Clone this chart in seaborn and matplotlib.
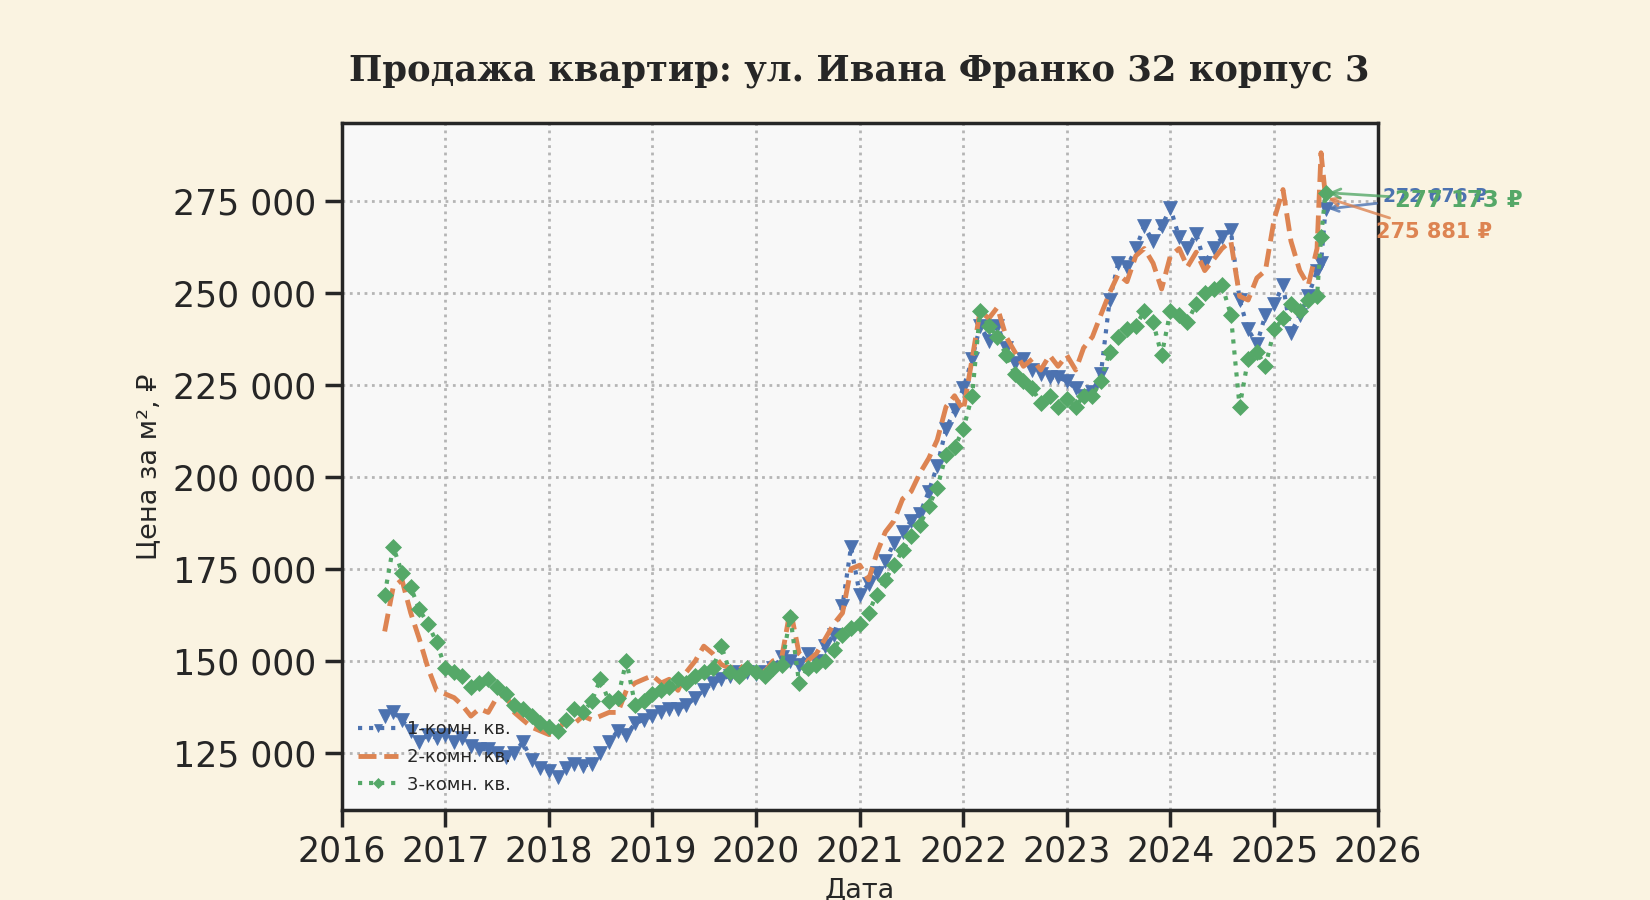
import pandas as pd
import matplotlib
matplotlib.use('Agg')
import matplotlib.pyplot as plt
import matplotlib.dates as mdates
from matplotlib.ticker import FuncFormatter, MultipleLocator
import seaborn as sns

# monthly points Jun 2016 .. Jun 2025, plus mid-June and July 2025
dates = list(pd.date_range('2016-06-01', '2025-06-01', freq='MS')) + \
    [pd.Timestamp('2025-06-15'), pd.Timestamp('2025-07-01')]

# price per m2, thousands of rubles
one_room = (
    [135, 136, 134, 131, 128, 130, 129]
    + [130, 128, 129, 127, 126, 126, 125, 124, 125, 128, 123, 121]
    + [120, 118.5, 121, 122, 121.5, 122, 125, 128, 131, 130, 133, 134]
    + [135, 136, 137, 137, 138, 140, 142, 144, 145, 146, 147, 147]
    + [146.5, 147, 148, 151, 150, 149, 152, 150, 154, 157, 165, 181]
    + [168, 171, 174, 177, 182, 185, 188, 190, 196, 203, 213, 218]
    + [224, 232, 241, 237, 241, 235, 231, 232, 229, 228, 227, 227]
    + [226, 224, 222, 223, 228, 248, 258, 257, 262, 268, 264, 268]
    + [273, 265, 262, 266, 258, 262, 265, 267, 248, 240, 236, 244]
    + [247, 252, 239, 244, 249, 256, 258, 272.676]
)
two_room = (
    [158, 170, 172, 163, 156, 148, 142]
    + [141, 140, 138, 135, 137, 136, 140, 141, 136, 134, 132, 131]
    + [130, 131, 134, 133, 135, 134, 135, 136, 136, 142, 144, 145]
    + [146, 144, 145, 142, 147, 150, 154, 152, 149, 148, 149, 147]
    + [148, 147, 150, 151, 164, 152, 150, 152, 156, 160, 163, 175]
    + [176, 172, 179, 185, 188, 194, 196, 201, 205, 210, 219, 222]
    + [218, 232, 245, 243, 246, 238, 234, 230, 232, 229, 233, 230]
    + [233, 229, 235, 238, 244, 250, 255, 253, 260, 262, 258, 251]
    + [260, 262, 257, 261, 256, 259, 262, 264, 249, 248, 254, 256]
    + [270, 278, 264, 256, 252, 262, 288, 275.881]
)
three_room = (
    [168, 181, 174, 170, 164, 160, 155]
    + [148, 147, 146, 143, 144, 145, 143, 141, 138, 137, 135, 133]
    + [132, 131, 134, 137, 136, 139, 145, 139, 140, 150, 138, 139]
    + [141, 142, 143, 145, 144, 146, 147, 148, 154, 147, 146, 148]
    + [147, 146, 148, 149, 162, 144, 148, 149, 150, 153, 157, 159]
    + [160, 163, 168, 172, 176, 180, 184, 187, 192, 197, 206, 208]
    + [213, 222, 245, 241, 238, 233, 228, 226, 224, 220, 222, 219]
    + [221, 219, 222, 222, 226, 234, 238, 240, 241, 245, 242, 233]
    + [245, 244, 242, 247, 250, 251, 252, 244, 219, 232, 234, 230]
    + [240, 243, 247, 245, 248, 249, 265, 277.173]
)

labels = ['1-комн. кв.', '2-комн. кв.', '3-комн. кв.']
series = [one_room, two_room, three_room]

df = pd.DataFrame({'Дата': dates})
for lab, vals in zip(labels, series):
    df[lab] = [v * 1000 for v in vals]

pal = sns.color_palette('deep')
styles = {
    labels[0]: dict(color=pal[0], linestyle=':', linewidth=3, marker='v', markersize=10.5),
    labels[1]: dict(color=pal[1], linestyle='--', linewidth=3.5),
    labels[2]: dict(color=pal[2], linestyle=':', linewidth=3, marker='D', markersize=8),
}

sns.set_theme(style='ticks')
plt.rcParams['font.family'] = ['DejaVu Sans']
text_color = '#262626'

fig, ax = plt.subplots(figsize=(16.5, 9), dpi=100)
fig.patch.set_facecolor('#faf3e1')
ax.set_facecolor('#f8f8f8')
fig.subplots_adjust(left=0.207, right=0.835, bottom=0.10, top=0.863)

for lab in labels:
    st = styles[lab]
    sns.lineplot(data=df, x='Дата', y=lab, ax=ax, label=lab,
                 markeredgecolor=st['color'], markeredgewidth=0.5, **st)

# last-value annotations
offsets = {labels[0]: ((41, 9), 13.5), labels[2]: ((50, -6), 16.5), labels[1]: ((36, -25), 15)}
for lab in [labels[0], labels[1], labels[2]]:
    last_x = df['Дата'].iloc[-1]
    last_y = df[lab].iloc[-1]
    col = styles[lab]['color']
    off, fs = offsets[lab]
    ax.annotate(f'{last_y:,.0f} ₽'.replace(',', ' '), xy=(last_x, last_y),
                xytext=off, textcoords='offset points', ha='left', va='center',
                fontsize=fs, fontweight='bold', color=col, annotation_clip=False,
                arrowprops=dict(arrowstyle='->', color=col, lw=2, alpha=0.8))

ax.set_xlim(pd.Timestamp('2016-01-01'), pd.Timestamp('2026-01-01'))
ax.set_ylim(109500, 296000)
ax.xaxis.set_major_locator(mdates.YearLocator())
ax.xaxis.set_major_formatter(mdates.DateFormatter('%Y'))
ax.yaxis.set_major_locator(MultipleLocator(25000))
ax.yaxis.set_major_formatter(FuncFormatter(lambda v, p: f'{v:,.0f}'.replace(',', ' ')))

ax.grid(True, linestyle=':', color='#b5b5b5', linewidth=2)
for sp in ax.spines.values():
    sp.set_linewidth(2.5)
    sp.set_color(text_color)
ax.tick_params(axis='both', length=12, width=2.5, labelsize=25, colors=text_color, pad=6)

ax.set_title('Продажа квартир: ул. Ивана Франко 32 корпус 3', fontsize=25.5,
             fontweight='bold', family='DejaVu Serif', color=text_color, pad=31)
ax.set_ylabel('Цена за м², ₽', fontsize=19.5, color=text_color, labelpad=8)
ax.set_xlabel('Дата', fontsize=19.5, color=text_color, labelpad=6)

ax.legend(loc='lower left', frameon=False, fontsize=13, markerscale=0.6,
          handlelength=2.2, handletextpad=0.5, labelspacing=0.55)

fig.savefig('out.png', dpi=100, facecolor=fig.get_facecolor())
